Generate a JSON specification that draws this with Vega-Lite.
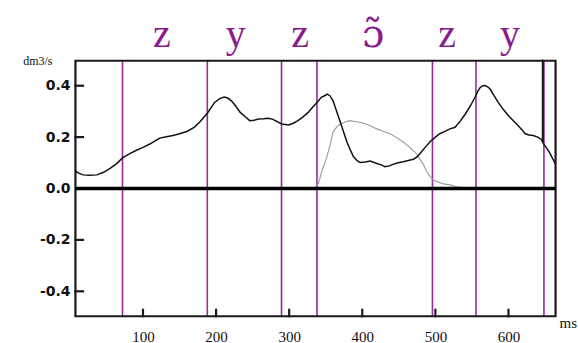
{
  "$schema": "https://vega.github.io/schema/vega-lite/v6.json",
  "width": 481,
  "height": 257,
  "autosize": {"type": "none"},
  "padding": {"left": 75, "top": 60, "right": 22, "bottom": 26},
  "background": "white",
  "config": {
    "view": {"stroke": null},
    "axis": {"grid": false, "domain": false, "ticks": false}
  },
  "datasets": {
    "flow": [
      {"x": 7, "y": 0.068}, {"x": 12, "y": 0.06}, {"x": 18, "y": 0.053}, {"x": 27, "y": 0.052}, {"x": 37, "y": 0.053},
      {"x": 46, "y": 0.063}, {"x": 55, "y": 0.078}, {"x": 64, "y": 0.097}, {"x": 72, "y": 0.119}, {"x": 82, "y": 0.136},
      {"x": 91, "y": 0.149}, {"x": 100, "y": 0.16}, {"x": 110, "y": 0.174}, {"x": 117, "y": 0.186}, {"x": 123, "y": 0.196},
      {"x": 132, "y": 0.201}, {"x": 141, "y": 0.206}, {"x": 150, "y": 0.213}, {"x": 160, "y": 0.222}, {"x": 170, "y": 0.238},
      {"x": 178, "y": 0.26}, {"x": 188, "y": 0.293}, {"x": 198, "y": 0.335}, {"x": 205, "y": 0.35}, {"x": 211, "y": 0.356},
      {"x": 216, "y": 0.352}, {"x": 221, "y": 0.341}, {"x": 227, "y": 0.32}, {"x": 233, "y": 0.296}, {"x": 240, "y": 0.279},
      {"x": 246, "y": 0.264}, {"x": 252, "y": 0.266}, {"x": 258, "y": 0.27}, {"x": 265, "y": 0.271}, {"x": 271, "y": 0.273},
      {"x": 277, "y": 0.27}, {"x": 281, "y": 0.264}, {"x": 290, "y": 0.251}, {"x": 299, "y": 0.247}, {"x": 305, "y": 0.253},
      {"x": 312, "y": 0.264}, {"x": 319, "y": 0.279}, {"x": 326, "y": 0.296}, {"x": 332, "y": 0.316}, {"x": 338, "y": 0.335},
      {"x": 344, "y": 0.355}, {"x": 349, "y": 0.362}, {"x": 352, "y": 0.367}, {"x": 356, "y": 0.36}, {"x": 360, "y": 0.341},
      {"x": 365, "y": 0.3}, {"x": 370, "y": 0.258}, {"x": 375, "y": 0.215}, {"x": 379, "y": 0.181}, {"x": 384, "y": 0.148},
      {"x": 388, "y": 0.123}, {"x": 393, "y": 0.108}, {"x": 397, "y": 0.101}, {"x": 404, "y": 0.103}, {"x": 411, "y": 0.107},
      {"x": 416, "y": 0.101}, {"x": 420, "y": 0.097}, {"x": 426, "y": 0.092}, {"x": 431, "y": 0.085}, {"x": 437, "y": 0.088},
      {"x": 442, "y": 0.094}, {"x": 449, "y": 0.1}, {"x": 456, "y": 0.104}, {"x": 463, "y": 0.109}, {"x": 470, "y": 0.114},
      {"x": 475, "y": 0.123}, {"x": 479, "y": 0.136}, {"x": 486, "y": 0.16}, {"x": 493, "y": 0.183}, {"x": 500, "y": 0.2},
      {"x": 506, "y": 0.213}, {"x": 513, "y": 0.222}, {"x": 520, "y": 0.232}, {"x": 527, "y": 0.238}, {"x": 534, "y": 0.262},
      {"x": 541, "y": 0.29}, {"x": 548, "y": 0.322}, {"x": 554, "y": 0.354}, {"x": 558, "y": 0.378}, {"x": 561, "y": 0.392},
      {"x": 565, "y": 0.4}, {"x": 568, "y": 0.401}, {"x": 572, "y": 0.395}, {"x": 575, "y": 0.386}, {"x": 580, "y": 0.362},
      {"x": 586, "y": 0.335}, {"x": 593, "y": 0.307}, {"x": 600, "y": 0.283}, {"x": 607, "y": 0.263}, {"x": 613, "y": 0.245},
      {"x": 618, "y": 0.23}, {"x": 623, "y": 0.213}, {"x": 628, "y": 0.208}, {"x": 634, "y": 0.206}, {"x": 640, "y": 0.2},
      {"x": 645, "y": 0.191}, {"x": 648, "y": 0.174}, {"x": 652, "y": 0.158}, {"x": 657, "y": 0.136}, {"x": 661, "y": 0.113},
      {"x": 664, "y": 0.097}
    ],
    "nasal": [
      {"x": 322, "y": 0}, {"x": 335, "y": 0.002}, {"x": 340, "y": 0.02}, {"x": 345, "y": 0.07}, {"x": 351, "y": 0.117},
      {"x": 356, "y": 0.17}, {"x": 360, "y": 0.219}, {"x": 365, "y": 0.24}, {"x": 370, "y": 0.251}, {"x": 376, "y": 0.258},
      {"x": 383, "y": 0.264}, {"x": 392, "y": 0.26}, {"x": 401, "y": 0.255}, {"x": 410, "y": 0.245}, {"x": 420, "y": 0.232},
      {"x": 429, "y": 0.222}, {"x": 438, "y": 0.213}, {"x": 447, "y": 0.198}, {"x": 456, "y": 0.181}, {"x": 464, "y": 0.163},
      {"x": 472, "y": 0.142}, {"x": 478, "y": 0.118}, {"x": 484, "y": 0.091}, {"x": 488, "y": 0.066}, {"x": 493, "y": 0.046},
      {"x": 497, "y": 0.034}, {"x": 502, "y": 0.027}, {"x": 511, "y": 0.018}, {"x": 520, "y": 0.014}, {"x": 528, "y": 0.008},
      {"x": 536, "y": 0.004}, {"x": 541, "y": 0.002}
    ],
    "bounds": [
      {"x": 72}, {"x": 188}, {"x": 289.5}, {"x": 338}, {"x": 496}, {"x": 555.5}, {"x": 648.5}
    ],
    "outline": [
      {"g": "frame", "o": 1, "x": 7.6, "y": -0.497},
      {"g": "frame", "o": 2, "x": 664.4, "y": -0.497},
      {"g": "frame", "o": 3, "x": 664.4, "y": 0.497},
      {"g": "frame", "o": 4, "x": 7.6, "y": 0.497},
      {"g": "frame", "o": 5, "x": 7.6, "y": -0.497},
      {"g": "mark647", "o": 1, "x": 647, "y": 0.185},
      {"g": "mark647", "o": 2, "x": 647, "y": 0.497},
      {"g": "xt100", "o": 1, "x": 100, "y": -0.497}, {"g": "xt100", "o": 2, "x": 100, "y": -0.472},
      {"g": "xt200", "o": 1, "x": 200, "y": -0.497}, {"g": "xt200", "o": 2, "x": 200, "y": -0.472},
      {"g": "xt300", "o": 1, "x": 300, "y": -0.497}, {"g": "xt300", "o": 2, "x": 300, "y": -0.472},
      {"g": "xt400", "o": 1, "x": 400, "y": -0.497}, {"g": "xt400", "o": 2, "x": 400, "y": -0.472},
      {"g": "xt500", "o": 1, "x": 500, "y": -0.497}, {"g": "xt500", "o": 2, "x": 500, "y": -0.472},
      {"g": "xt600", "o": 1, "x": 600, "y": -0.497}, {"g": "xt600", "o": 2, "x": 600, "y": -0.472},
      {"g": "yt-0.4", "o": 1, "x": 7.6, "y": -0.4}, {"g": "yt-0.4", "o": 2, "x": 18, "y": -0.4},
      {"g": "yt-0.2", "o": 1, "x": 7.6, "y": -0.2}, {"g": "yt-0.2", "o": 2, "x": 18, "y": -0.2},
      {"g": "yt0.2", "o": 1, "x": 7.6, "y": 0.2}, {"g": "yt0.2", "o": 2, "x": 18, "y": 0.2},
      {"g": "yt0.4", "o": 1, "x": 7.6, "y": 0.4}, {"g": "yt0.4", "o": 2, "x": 18, "y": 0.4}
    ],
    "zero": [
      {"y": 0}
    ],
    "segments": [
      {"x": 126, "t": "z"}, {"x": 227, "t": "y"}, {"x": 315, "t": "z"},
      {"x": 415, "t": "ɔ̃"}, {"x": 516, "t": "z"}, {"x": 602, "t": "y"}
    ]
  },
  "layer": [
    {
      "data": {"name": "bounds"},
      "mark": {"type": "rule", "color": "#962a9e", "strokeWidth": 1.6},
      "encoding": {
        "x": {
          "field": "x", "type": "quantitative",
          "scale": {"domain": [7, 665], "nice": false, "zero": false},
          "axis": {
            "values": [100, 200, 300, 400, 500, 600],
            "labelPadding": 12, "labelFont": "Liberation Serif", "labelFontSize": 15, "labelColor": "#111",
            "title": "ms", "titleFont": "Liberation Serif", "titleFontSize": 15, "titleFontWeight": "normal",
            "titleColor": "#111", "titleAnchor": "start", "titleAlign": "left", "titleX": 484, "titleY": 5,
            "titleBaseline": "middle"
          }
        }
      }
    },
    {
      "data": {"name": "outline"},
      "mark": {"type": "line", "color": "#1a1a1a", "strokeWidth": 2.2, "strokeCap": "square"},
      "encoding": {
        "x": {"field": "x", "type": "quantitative"},
        "y": {
          "field": "y", "type": "quantitative",
          "scale": {"domain": [-0.5, 0.5], "nice": false},
          "axis": {
            "values": [-0.4, -0.2, 0, 0.2, 0.4],
            "labelExpr": "datum.value < 0 ? '-' + format(-datum.value, '.1f') : format(datum.value, '.1f')",
            "labelPadding": 5, "labelFont": "DejaVu Sans", "labelFontWeight": "bold", "labelFontSize": 14, "labelColor": "#111",
            "title": "dm3/s", "titleAngle": 0, "titleAlign": "right", "titleBaseline": "alphabetic",
            "titleX": -23, "titleY": 4, "titleFont": "Liberation Serif", "titleFontSize": 12, "titleFontWeight": "normal",
            "titleColor": "#111"
          }
        },
        "detail": {"field": "g", "type": "nominal"},
        "order": {"field": "o", "type": "quantitative"}
      }
    },
    {
      "data": {"name": "nasal"},
      "mark": {"type": "line", "color": "#9a9a9a", "strokeWidth": 1.1},
      "encoding": {
        "x": {"field": "x", "type": "quantitative"},
        "y": {"field": "y", "type": "quantitative"}
      }
    },
    {
      "data": {"name": "flow"},
      "mark": {"type": "line", "color": "#111", "strokeWidth": 1.5},
      "encoding": {
        "x": {"field": "x", "type": "quantitative"},
        "y": {"field": "y", "type": "quantitative"}
      }
    },
    {
      "data": {"name": "zero"},
      "mark": {"type": "rule", "color": "#000", "strokeWidth": 3.5},
      "encoding": {"y": {"field": "y", "type": "quantitative"}}
    },
    {
      "data": {"name": "segments"},
      "mark": {
        "type": "text", "color": "#8a1c8e",
        "font": {"expr": "datum.t == 'z' || datum.t == 'y' ? 'Liberation Serif' : 'DejaVu Serif'"},
        "fontSize": 40, "baseline": "alphabetic", "align": "center"
      },
      "encoding": {
        "x": {"field": "x", "type": "quantitative"},
        "y": {"datum": 0.55},
        "text": {"field": "t"}
      }
    }
  ]
}
